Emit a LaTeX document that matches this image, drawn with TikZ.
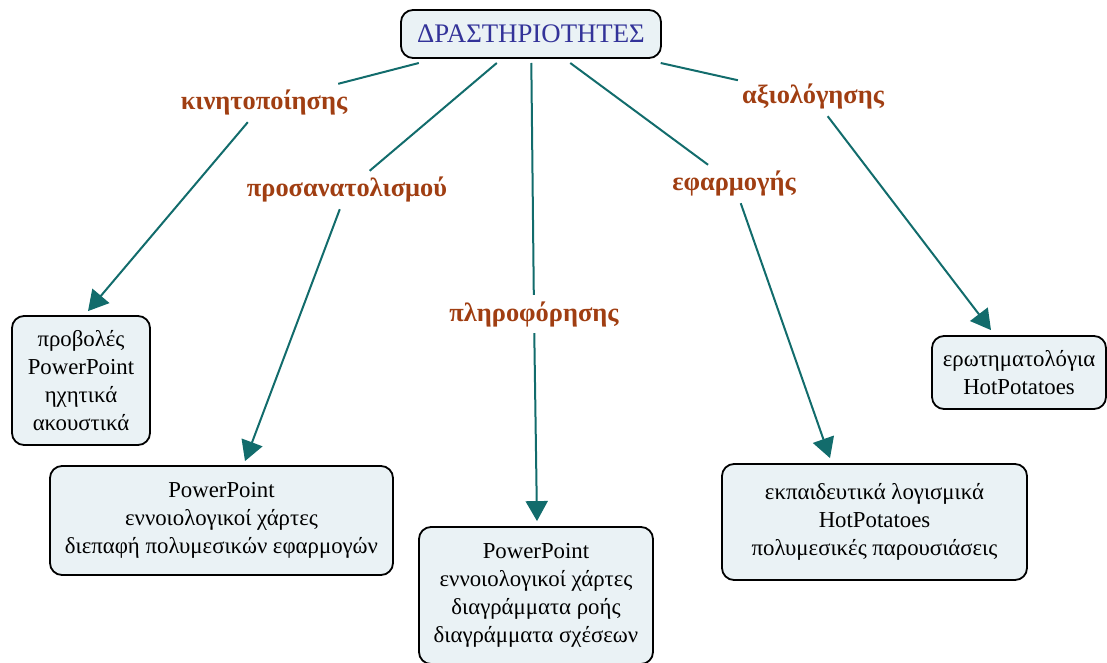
\documentclass[tikz,border=0pt]{standalone}
\usepackage{fontspec}
\setmainfont{Liberation Serif}
\usetikzlibrary{arrows.meta}
\definecolor{boxfill}{RGB}{234,242,245}
\definecolor{topblue}{RGB}{51,51,153}
\definecolor{labbrown}{RGB}{160,62,18}
\definecolor{linkc}{RGB}{18,108,108}
\begin{document}
\begin{tikzpicture}[x=1pt,y=-1pt,
  box/.style={draw=black,line width=1.8pt,rounded corners=12pt,fill=boxfill,inner sep=0pt,align=center,font=\fontsize{22.8}{28}\selectfont},
  lab/.style={text=labbrown,font=\bfseries\fontsize{26.4}{30}\selectfont,minimum height=38pt,inner xsep=4pt,inner ysep=0pt},
  link/.style={draw=linkc,line width=2pt},
  arr/.style={link,-{Triangle[length=20pt,width=22pt]}}]
\useasboundingbox (0,0) rectangle (1107,663);
\node[box,minimum width=260pt,minimum height=48pt,text=topblue,font=\fontsize{26.8}{30}\selectfont,outer sep=5pt] (top) at (531,34) {ΔΡΑΣΤΗΡΙΟΤΗΤΕΣ};
\node[lab] (l1) at (264,103) {κινητοποίησης};
\node[lab] (l2) at (347,190) {προσανατολισμού};
\node[lab] (l3) at (534,314) {πληροφόρησης};
\node[lab] (l4) at (734,184) {εφαρμογής};
\node[lab] (l5) at (813,97) {αξιολόγησης};
\node[box,minimum width=138pt,minimum height=129pt] (b1) at (81,380.5) {προβολές\\PowerPoint\\ηχητικά\\ακουστικά};
\node[box,minimum width=343pt,minimum height=109pt] (b2) at (221.5,520.5) {PowerPoint\\εννοιολογικοί χάρτες\\διεπαφή πολυμεσικών εφαρμογών};
\node[box,minimum width=234pt,minimum height=137pt] (b3) at (536,595.5) {PowerPoint\\εννοιολογικοί χάρτες\\διαγράμματα ροής\\διαγράμματα σχέσεων};
\node[box,minimum width=305pt,minimum height=116pt] (b4) at (874.5,522) {εκπαιδευτικά λογισμικά\\HotPotatoes\\πολυμεσικές παρουσιάσεις};
\node[box,minimum width=174pt,minimum height=73pt] (b5) at (1019,372.5) {ερωτηματολόγια\\HotPotatoes};
\draw[link] (top) -- (l1);
\draw[link] (top) -- (l2);
\draw[link] (top) -- (l3);
\draw[link] (top) -- (l4);
\draw[link] (top) -- (l5);
\draw[arr] (l1) -- ([xshift=7pt,yshift=4pt]b1.north);
\draw[arr] (l2) -- ([xshift=23.5pt,yshift=4pt]b2.north);
\draw[arr] (l3) -- ([xshift=1pt,yshift=5pt]b3.north);
\draw[arr] (l4) -- ([xshift=-44.5pt,yshift=5pt]b4.north);
\draw[arr] (l5) -- ([xshift=-28pt,yshift=5pt]b5.north);
\end{tikzpicture}
\end{document}
